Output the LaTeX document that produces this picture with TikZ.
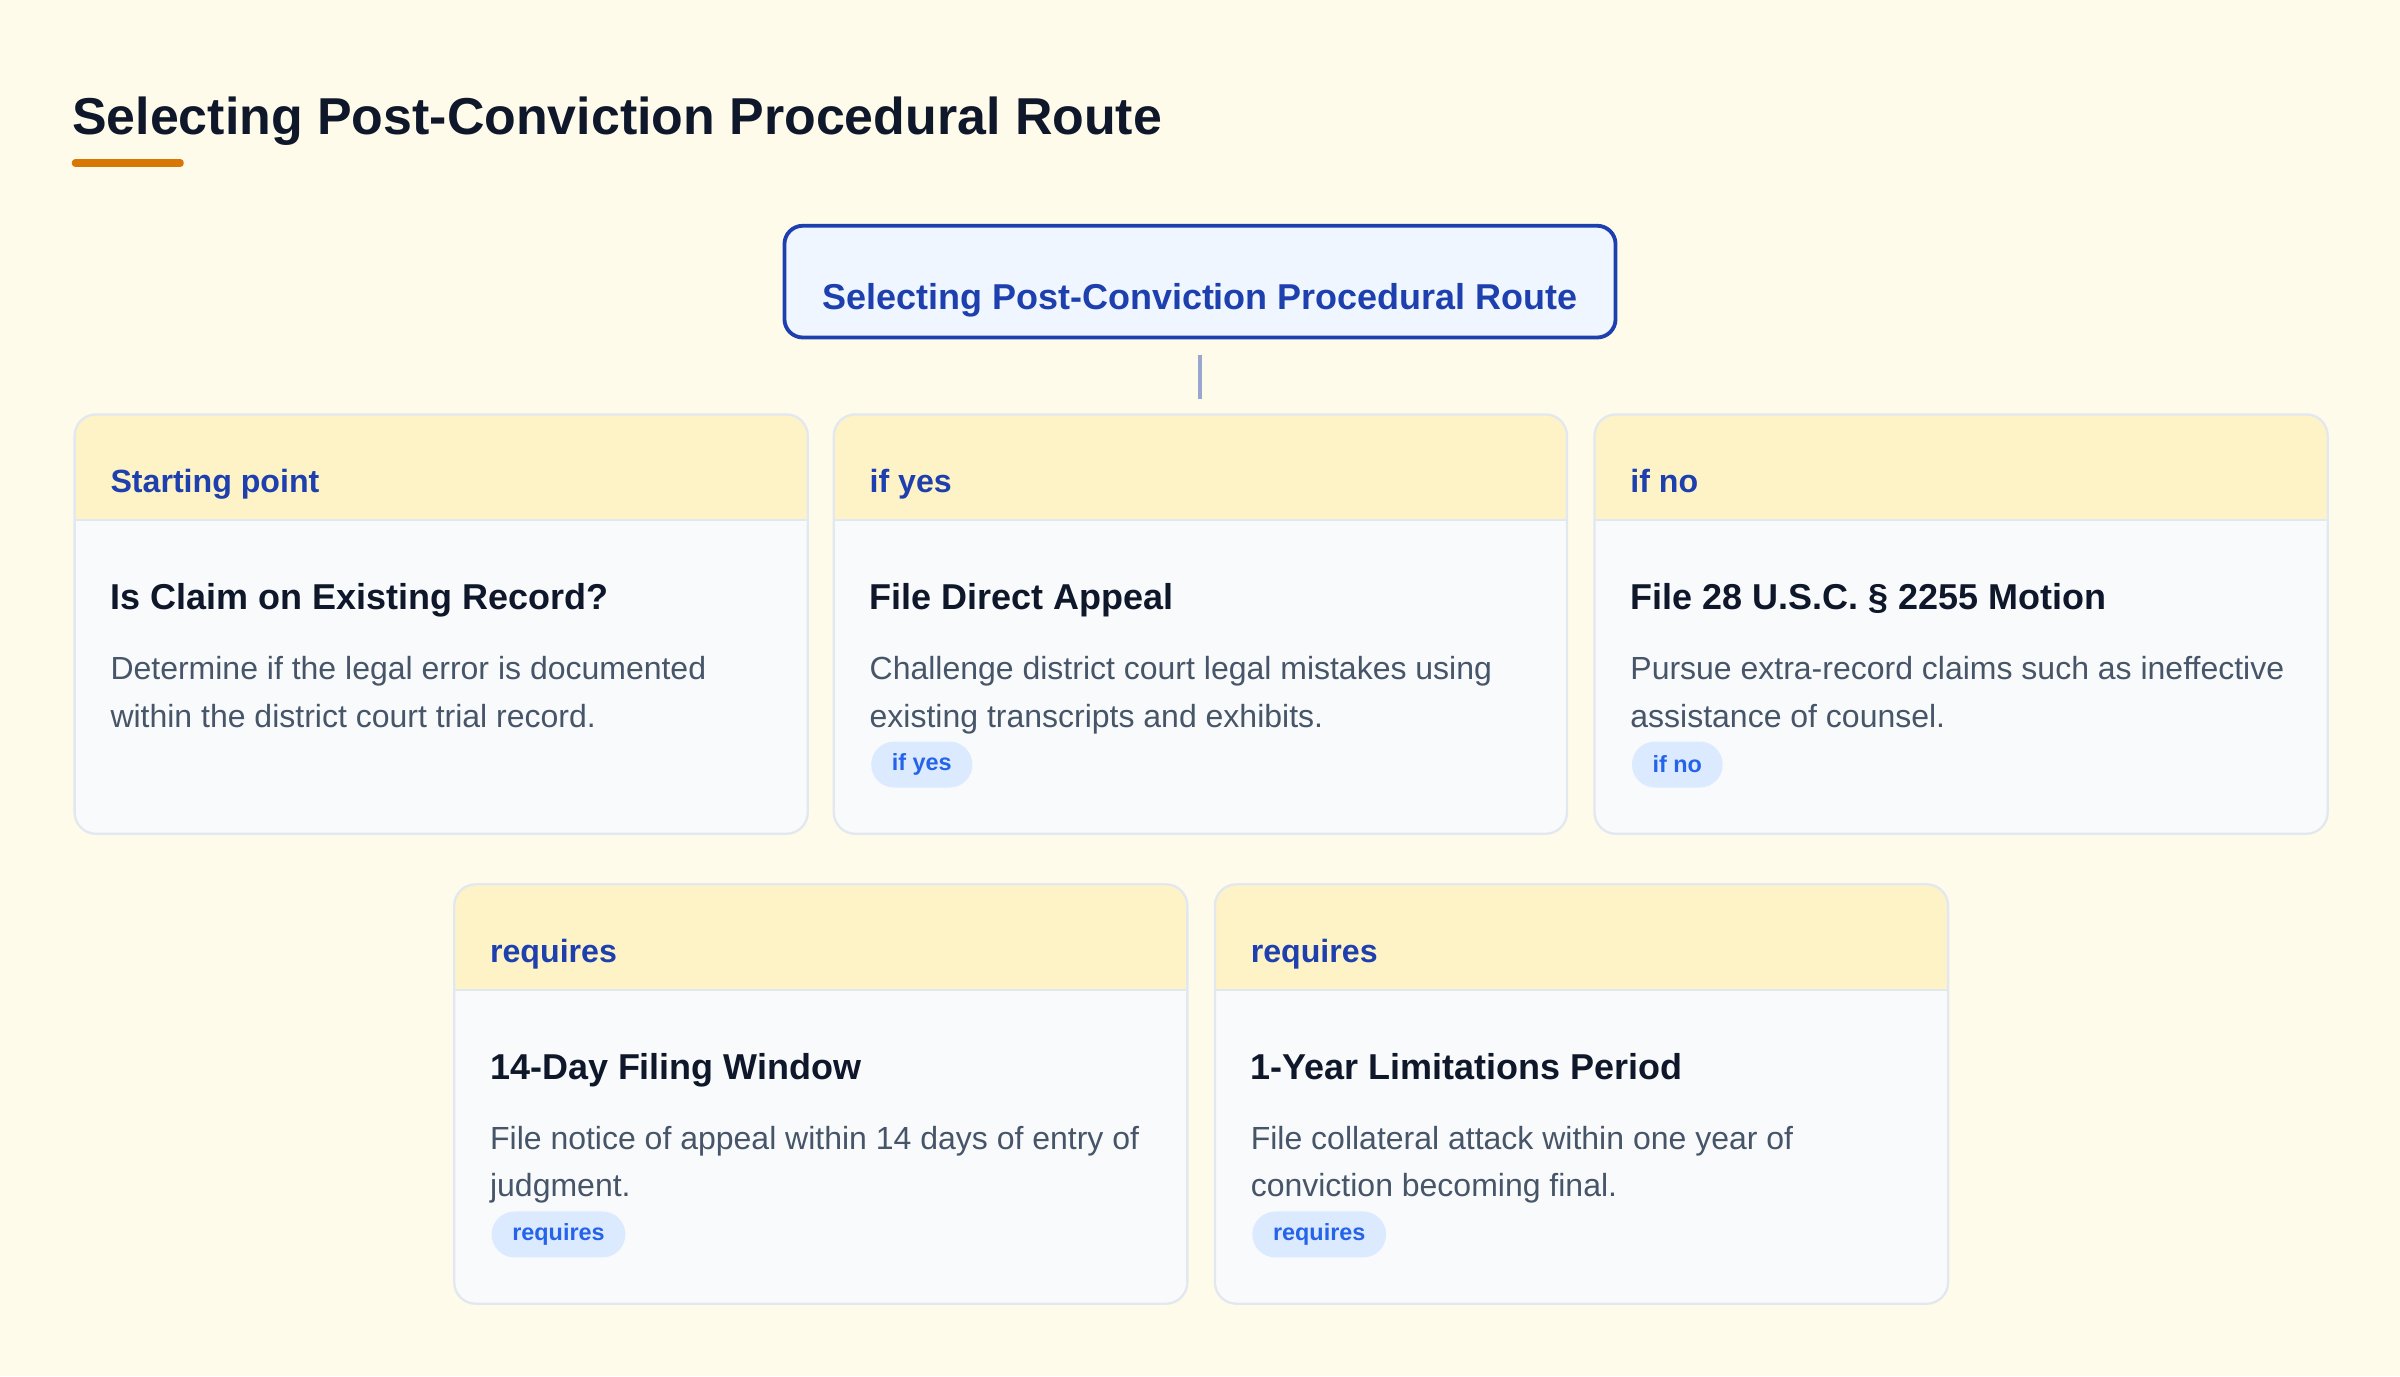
\documentclass[tikz,border=0pt]{standalone}
\usepackage{fontspec}
\setmainfont{Liberation Sans}
\definecolor{bgc}{HTML}{FFFBEB}
\definecolor{ink}{HTML}{0F172A}
\definecolor{accent}{HTML}{D97706}
\definecolor{rootblue}{HTML}{1E40AF}
\definecolor{rootfill}{HTML}{EFF6FF}
\definecolor{hdrfill}{HTML}{FEF3C7}
\definecolor{bodyfill}{HTML}{F8FAFC}
\definecolor{cardborder}{HTML}{E2E8F0}
\definecolor{desc}{HTML}{475569}
\definecolor{pillfill}{HTML}{DBEAFE}
\definecolor{pilltext}{HTML}{2563EB}
\tikzset{
  cardbox/.style={draw=cardborder, line width=1.5pt, fill=bodyfill, rounded corners=14pt,
    minimum width=479pt, minimum height=274pt, inner sep=0pt, anchor=north west,
    path picture={
      \fill[hdrfill, sharp corners] (path picture bounding box.north west) rectangle ([yshift=-69pt]path picture bounding box.north east);
      \draw[cardborder, line width=1.5pt, sharp corners] ([yshift=-69pt]path picture bounding box.north west) -- ([yshift=-69pt]path picture bounding box.north east);
    }},
  hdrtext/.style={anchor=base west, inner sep=0pt, text=rootblue, font=\fontsize{21}{25}\selectfont\bfseries},
  titletext/.style={anchor=base west, inner sep=0pt, text=ink, font=\fontsize{23.5}{28}\selectfont\bfseries},
  desctext/.style={anchor=base west, inner sep=0pt, text=desc, font=\fontsize{20.9}{31}\selectfont},
  pill/.style={anchor=west, fill=pillfill, rounded corners=15pt, minimum height=30pt, inner xsep=13.5pt, inner ysep=0pt,
    text=pilltext, font=\fontsize{15.3}{18}\selectfont\bfseries},
  conn/.style={draw=rootblue, draw opacity=0.45, line width=2.2pt},
}
\newcommand{\mycard}[7]{%
  \node[cardbox] (#1) at (#2,#3) {};
  \node[hdrtext] (#1h) at ([shift={(24,52)}]#1.north west) {#4};
  \node[titletext] (#1t) at ([shift={(24,128)}]#1.north west) {#5};
  \node[desctext] (#1a) at ([shift={(24,174)}]#1.north west) {#6};
  \node[desctext] (#1b) at ([shift={(24,205)}]#1.north west) {#7};
}
\begin{document}
\begin{tikzpicture}[x=1pt,y=-1pt]
\fill[bgc] (0,0) rectangle (1568,899);
\useasboundingbox (0,0) rectangle (1568,899);
\node[anchor=base west, inner sep=0pt, text=ink, font=\fontsize{33.9}{40}\selectfont\bfseries] (title) at (47,88) {Selecting Post-Conviction Procedural Route};
\fill[accent, rounded corners=2pt] (47,104) rectangle (120,109);
\node[draw=rootblue, line width=2.5pt, fill=rootfill, rounded corners=12pt, minimum width=543pt, minimum height=73pt, inner sep=0pt] (root) at (784,184) {};
\node[anchor=base, inner sep=0pt, text=rootblue, font=\fontsize{23.5}{28}\selectfont\bfseries] (roottext) at (784,202) {Selecting Post-Conviction Procedural Route};
\mycard{c1}{48}{270}{Starting point}{Is Claim on Existing Record?}{Determine if the legal error is documented}{within the district court trial record.}
\mycard{c2}{544}{270}{if yes}{File Direct Appeal}{Challenge district court legal mistakes using}{existing transcripts and exhibits.}
\mycard{c3}{1041}{270}{if no}{File 28 U.S.C. \S{} 2255 Motion}{Pursue extra-record claims such as ineffective}{assistance of counsel.}
\mycard{c4}{296}{577}{requires}{14-Day Filing Window}{File notice of appeal within 14 days of entry of}{judgment.}
\mycard{c5}{793}{577}{requires}{1-Year Limitations Period}{File collateral attack within one year of}{conviction becoming final.}
\node[pill] (p2) at ([shift={(25,229.5)}]c2.north west) {if yes};
\node[pill] (p3) at ([shift={(25,229.5)}]c3.north west) {if no};
\node[pill] (p4) at ([shift={(25,229.5)}]c4.north west) {requires};
\node[pill] (p5) at ([shift={(25,229.5)}]c5.north west) {requires};
\draw[conn, shorten <=10pt, shorten >=9pt] (root.south) -- (root.south |- c2.north);
\end{tikzpicture}
\end{document}
